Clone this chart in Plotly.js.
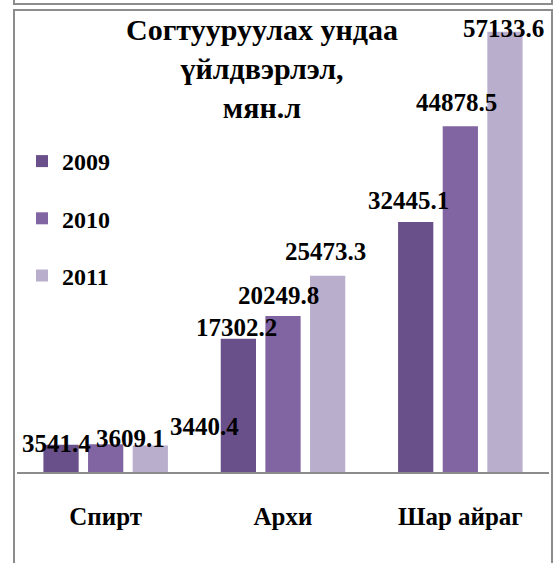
<!DOCTYPE html>
<html>
<head>
<meta charset="utf-8">
<script src="https://cdn.plot.ly/plotly-3.0.1.min.js"></script>
<style>
  html, body { margin: 0; padding: 0; background: #fff; }
  #chart { width: 555px; height: 563px; }
  .ln { position: absolute; background: #8c8c8c; pointer-events: none; z-index: 10; }
</style>
</head>
<body>
<div id="chart"></div>
<div class="ln" style="left:13px; top:3px; width:540px; height:2px;"></div>
<div class="ln" style="left:13px; top:0px; width:2px; height:5px;"></div>
<div class="ln" style="left:551px; top:0px; width:2px; height:5px;"></div>
<div class="ln" style="left:13px; top:9px; width:540px; height:2px;"></div>
<div class="ln" style="left:13px; top:9px; width:2px; height:560px;"></div>
<div class="ln" style="left:551px; top:9px; width:2px; height:560px;"></div>
<script>
// ---- data ----
const categories = ["Спирт", "Архи", "Шар айраг"];
const years = ["2009", "2010", "2011"];
const v2009 = [3541.4, 17302.2, 32445.1];
const v2010 = [3609.1, 20249.8, 44878.5];
const v2011 = [3440.4, 25473.3, 57133.6];
const titleText = "Согтууруулах ундаа<br>үйлдвэрлэл,<br>мян.л";

// ---- styling / label nudges (pixels) ----
const colors = ["#69508A", "#8165A2", "#B9AFCD"];
const labelDx = [[-5, -2, -7], [25, -5, -4], [54, -2, -1]];
const labelDy = [[8, -2, -12], [4, -11, -14], [-9, -15, 6]];

const series = [v2009, v2010, v2011];
const W = 555, H = 563;
const mL = 17, mR = 6, mT = 20, mB = 91;
const bargap = 0.245, bargroupgap = 0.21;
const font = "Liberation Serif, Times New Roman, serif";

const traces = series.map((vals, i) => ({
  type: "bar",
  name: years[i],
  x: categories,
  y: vals,
  legendgroup: "g" + i,
  marker: { color: colors[i] },
  hoverinfo: "none"
}));

const plotW = W - mL - mR;
const plotH = H - mT - mB;
const slot = plotW / categories.length * (1 - bargap) / series.length;
const annotations = [];
series.forEach((vals, i) => {
  vals.forEach((v, j) => {
    annotations.push({
      x: categories[j], y: v, xref: "x", yref: "y",
      text: v.toFixed(1),
      showarrow: false,
      xanchor: "center", yanchor: "bottom",
      xshift: (i - 1) * slot + labelDx[i][j],
      yshift: -labelDy[i][j] - 6,
      font: { family: font, size: 25, color: "#000", weight: "bold" }
    });
  });
});

const layout = {
  width: W, height: H,
  margin: { l: mL, r: mR, t: mT, b: mB },
  paper_bgcolor: "#fff", plot_bgcolor: "#fff",
  barmode: "group", bargap: bargap, bargroupgap: bargroupgap,
  title: {
    text: titleText,
    x: 262 / W, xref: "container", xanchor: "center",
    y: 1 - 40 / H, yref: "container", yanchor: "top",
    font: { family: font, size: 30, color: "#000", weight: "bold" }
  },
  xaxis: {
    showline: true, linecolor: "#8c8c8c", linewidth: 1.5,
    showgrid: false, zeroline: false, ticks: "",
    ticklabelstandoff: 21,
    tickfont: { family: font, size: 25, color: "#000", weight: "bold" },
    range: [-0.5, 2.5]
  },
  yaxis: {
    range: [0, 58670], visible: false, showgrid: false, zeroline: false
  },
  showlegend: true,
  legend: {
    xref: "paper", yref: "paper",
    x: (22 - mL) / plotW, y: 1 - (139 - mT) / plotH, xanchor: "left", yanchor: "top",
    tracegroupgap: 23, traceorder: "grouped",
    font: { family: font, size: 24, color: "#000", weight: "bold" },
    bgcolor: "rgba(0,0,0,0)"
  },
  annotations: annotations
};

Plotly.newPlot("chart", traces, layout, { displayModeBar: false, staticPlot: true });
</script>
</body>
</html>
